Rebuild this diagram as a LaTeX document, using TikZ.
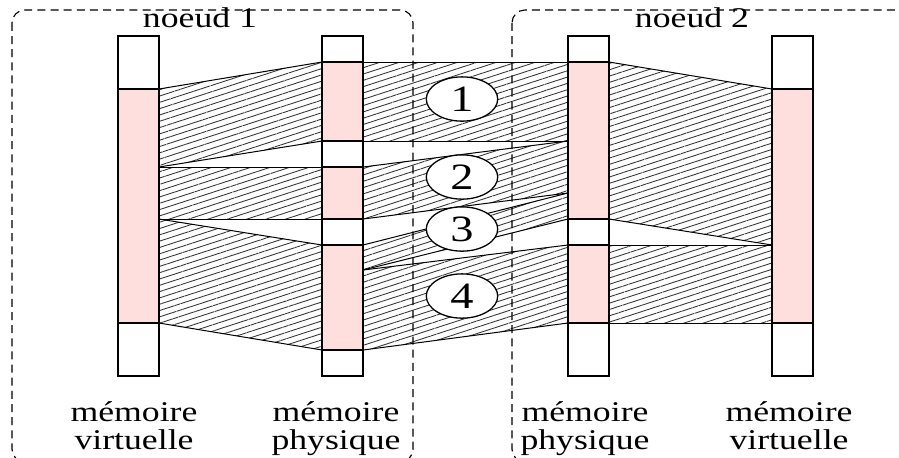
\documentclass[tikz,border=0pt]{standalone}
\usepackage{fontspec}
\setmainfont{Liberation Serif}[FakeStretch=1.25]
\usetikzlibrary{shapes,positioning,calc,patterns.meta}
\definecolor{rosemem}{RGB}{255,222,222}

\begin{document}
\begin{tikzpicture}
[x=.35pt,y=-.35pt,
every node/.style={inner sep=0pt,font=\fontsize{10}{9.8}\selectfont},
bar/.style={draw=black,fill=white,line width=.55pt},
used/.style={draw=black,fill=rosemem,line width=.55pt},
zone/.style={draw=black,line width=.35pt,pattern color=black!80,
  pattern={Lines[angle=18,distance=2.1pt,line width=.3pt]}},
num/.style={shape=ellipse,draw,fill=white,line width=.45pt,
  minimum width=25pt,minimum height=15.5pt,font=\fontsize{13}{13}\selectfont},
noeud/.style={dash pattern=on 2.8pt off 1.8pt,line width=.4pt,rounded corners=4.5pt},
lab/.style={align=center,anchor=north}]
\useasboundingbox (0,0) rectangle (899,457);
\clip (0,0) rectangle (899,457);
%%%%%%%%%%
%%%%% mappings
%% noeud 1: virtuelle -> physique
\draw[zone] (159,89) -- (322,62) -- (322,141) -- (159,167) -- cycle;
\draw[zone] (159,167) -- (322,167) -- (322,219) -- (159,219) -- cycle;
\draw[zone] (159,219) -- (322,245) -- (322,350) -- (159,323) -- cycle;
%% physique 1 -> physique 2
\draw[zone] (363,62) -- (568,62) -- (568,141) -- (363,141) -- cycle;
\draw[zone] (363,167) -- (568,141) -- (568,193) -- (363,219) -- cycle;
\draw[zone] (363,245) -- (568,193) -- (568,219) -- (363,270) -- cycle;
\draw[zone] (363,270) -- (568,245) -- (568,323) -- (363,350) -- cycle;
%% noeud 2: physique -> virtuelle
\draw[zone] (609,62) -- (772,89) -- (772,245) -- (609,219) -- cycle;
\draw[zone] (609,245) -- (772,245) -- (772,323) -- (609,323) -- cycle;
%%%%% memories
\foreach \x in {118,322,568,772}
  \draw[bar] (\x,36) rectangle (\x+41,376);
\foreach \x/\a/\b in {118/89/323,322/62/141,322/167/219,322/245/350,
                      568/62/219,568/245/323,772/89/323}
  \draw[used] (\x,\a) rectangle (\x+41,\b);
%% pages
\node[num] (z1) at (462,99) {1};
\node[num] (z2) at (462,177) {2};
\node[num] (z3) at (462,229) {3};
\node[num] (z4) at (462,296) {4};
%%%%% noeuds
\draw[noeud] (12,10) rectangle (413,462);
\draw[noeud] (512,10) rectangle (930,462);
\node[anchor=base] (n1) at (200,27) {noeud 1};
\node[anchor=base] (n2) at (692,27) {noeud 2};
%% headings
\node[lab] (v1) at (134,401) {mémoire\\virtuelle};
\node[lab] (p1) at (336,401) {mémoire\\physique};
\node[lab] (p2) at (585,401) {mémoire\\physique};
\node[lab] (v2) at (789,401) {mémoire\\virtuelle};
\end{tikzpicture}
\end{document}
